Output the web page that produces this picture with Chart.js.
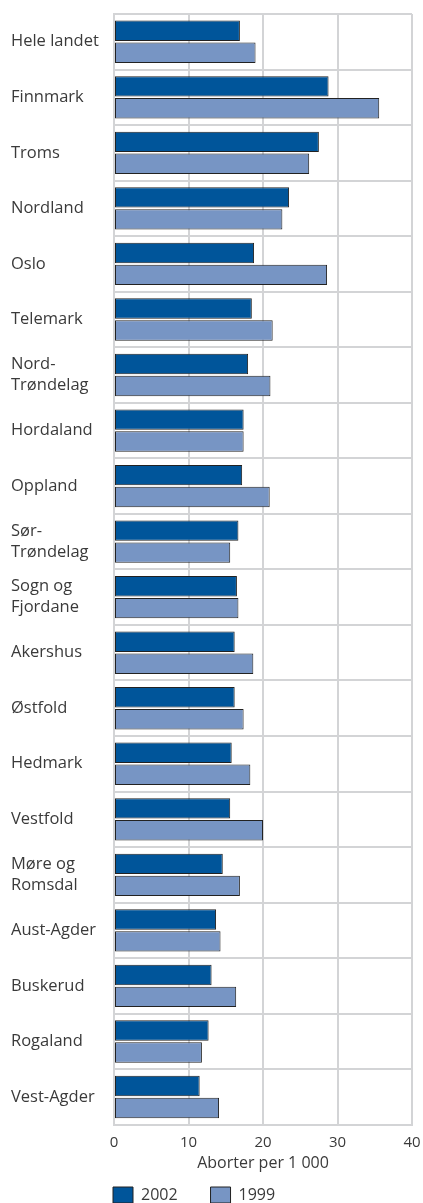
<!DOCTYPE html>
<html lang="no">
<head>
    <meta charset="UTF-8">
    <title>Aborter per 1 000</title>
    <style>
        html, body {
            margin: 0;
            padding: 0;
            background: #fff;
            overflow: hidden;
        }
        #wrap {
            width: 423px;
            height: 1214px;
        }
    </style>
</head>
<body>
    <div id="wrap">
        <canvas id="chart"></canvas>
    </div>

    <script src="https://cdn.jsdelivr.net/npm/chart.js"></script>
    <script>
        const regions = [
            'Hele landet', 'Finnmark', 'Troms', 'Nordland', 'Oslo', 'Telemark',
            ['Nord-', 'Trøndelag'], 'Hordaland', 'Oppland', ['Sør-', 'Trøndelag'],
            ['Sogn og', 'Fjordane'], 'Akershus', 'Østfold', 'Hedmark', 'Vestfold',
            ['Møre og', 'Romsdal'], 'Aust-Agder', 'Buskerud', 'Rogaland', 'Vest-Agder'
        ];
        const values2002 = [16.9, 28.8, 27.5, 23.5, 18.8, 18.5, 18.0, 17.4, 17.2, 16.7,
                            16.5, 16.2, 16.2, 15.8, 15.6, 14.6, 13.7, 13.1, 12.7, 11.5];
        const values1999 = [19.0, 35.6, 26.2, 22.6, 28.6, 21.3, 21.0, 17.4, 20.9, 15.6,
                            16.7, 18.7, 17.4, 18.3, 20.0, 16.9, 14.3, 16.4, 11.8, 14.1];
        const xTicks = [0, 10, 20, 30, 40];
        const xTitle = 'Aborter per 1 000';

        const gridColor = '#d3d4d6';
        const textColor = '#3a3a3a';
        const fontFamily = '"Open Sans", Arial, sans-serif';

        // legend sits under the plot area, not centred on the canvas
        const legendShift = {
            id: 'legendShift',
            afterLayout(chart) {
                chart.legend.left -= 9;
                chart.legend.right -= 9;
            }
        };

        new Chart(document.getElementById('chart'), {
            type: 'bar',
            data: {
                labels: regions,
                datasets: [
                    {
                        label: '2002',
                        data: values2002,
                        backgroundColor: '#00559a',
                        borderColor: '#222',
                        borderWidth: 1,
                        borderSkipped: false
                    },
                    {
                        label: '1999',
                        data: values1999,
                        backgroundColor: '#7795c4',
                        borderColor: '#222',
                        borderWidth: 1,
                        borderSkipped: false
                    }
                ]
            },
            options: {
                indexAxis: 'y',
                responsive: true,
                maintainAspectRatio: false,
                animation: false,
                categoryPercentage: 0.79,
                barPercentage: 0.93,
                layout: {
                    padding: { left: 11, right: 11, top: 14, bottom: 1 }
                },
                scales: {
                    x: {
                        min: 0,
                        max: 40,
                        afterBuildTicks(scale) {
                            scale.ticks = xTicks.map(v => ({ value: v }));
                        },
                        afterFit(scale) {
                            scale.paddingLeft = 0;
                            scale.paddingRight = 0;
                        },
                        grid: { color: gridColor, lineWidth: 2, drawTicks: false },
                        border: { color: gridColor, width: 2 },
                        ticks: {
                            color: textColor,
                            padding: 9,
                            font: { family: fontFamily, size: 15 }
                        },
                        title: {
                            display: true,
                            text: xTitle,
                            color: textColor,
                            padding: { top: -7, bottom: 6 },
                            font: { family: fontFamily, size: 16 }
                        }
                    },
                    y: {
                        afterFit(scale) {
                            scale.width = 103;
                        },
                        grid: { color: gridColor, lineWidth: 2, drawTicks: false, offset: true },
                        border: { color: gridColor, width: 2 },
                        ticks: {
                            color: textColor,
                            crossAlign: 'far',
                            font: { family: fontFamily, size: 16.5, lineHeight: 1.28 }
                        }
                    }
                },
                plugins: {
                    legend: {
                        position: 'bottom',
                        align: 'start',
                        fullSize: false,
                        labels: {
                            boxWidth: 20,
                            boxHeight: 16,
                            padding: 8,
                            color: textColor,
                            font: { family: fontFamily, size: 16 },
                            generateLabels(chart) {
                                const items = Chart.defaults.plugins.legend.labels.generateLabels(chart);
                                items[0].text = items[0].text + '\u00a0\u00a0\u00a0\u00a0\u00a0\u00a0';
                                return items;
                            }
                        }
                    },
                    tooltip: { enabled: false }
                }
            },
            plugins: [legendShift]
        });
    </script>
</body>
</html>
